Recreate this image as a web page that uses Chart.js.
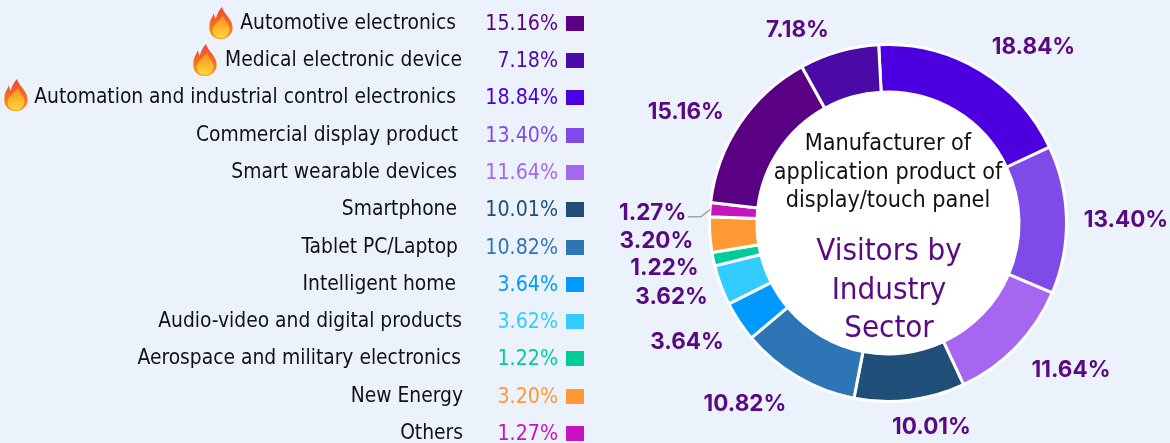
<!DOCTYPE html>
<html><head><meta charset="utf-8">
<style>html,body{margin:0;padding:0;background:#ebf2fb;overflow:hidden}canvas{display:block}</style>
<script src="https://cdn.jsdelivr.net/npm/chart.js@4/dist/chart.umd.min.js"></script>
</head><body><canvas id="c" width="1170" height="443"></canvas>
<script>
const legendCategories=["Automotive electronics","Medical electronic device","Automation and industrial control electronics","Commercial display product","Smart wearable devices","Smartphone","Tablet PC/Laptop","Intelligent home","Audio-video and digital products","Aerospace and military electronics","New Energy","Others"];
const legendValues=[15.16,7.18,18.84,13.40,11.64,10.01,10.82,3.64,3.62,1.22,3.20,1.27];
const legendColors=["#5a0082","#4b0aa5","#4c00e0","#7f4be8","#a566f0","#1f4e79","#2e75b6","#0099ff","#33ccff","#00cc99","#ff9933","#c814c0"];
const hotCategories=["Automotive electronics","Medical electronic device","Automation and industrial control electronics"];
const ringOrder=["Automation and industrial control electronics","Commercial display product","Smart wearable devices","Smartphone","Tablet PC/Laptop","Intelligent home","Audio-video and digital products","Aerospace and military electronics","New Energy","Others","Automotive electronics","Medical electronic device"];
const centerLines=["Manufacturer of","application product of","display/touch panel"];
const titleLines=["Visitors by","Industry","Sector"];

const val=n=>legendValues[legendCategories.indexOf(n)];
const col=n=>legendColors[legendCategories.indexOf(n)];
const rowY=[23,60,97,135,172,209,247,284,321,358,396,433];
const nameRight=[456,462,456,458,457,457,458,456,462,461,463,463];
const flameX=[221,205,16];
const nudges=[[34,10],[21,1],[27,-4],[17,-11],[-33,-6],[-20,-1],[-13,-1],[-11,1],[-15,4],[-19,6],[-22,10],[-31,16]];
const TEXT='"DejaVu Sans Condensed","DejaVu Sans",sans-serif';
const LABEL='Inter,"Open Sans",sans-serif';
const INK="#590a82";

function flame(ctx,x,y){
  ctx.save();ctx.translate(x,y);ctx.scale(1.05,1.07);
  const g=ctx.createLinearGradient(0,-15,0,15);
  g.addColorStop(0,"#e8483a");g.addColorStop(.55,"#f4701f");g.addColorStop(1,"#fb9a1a");
  ctx.fillStyle=g;ctx.beginPath();
  ctx.moveTo(1,-15);
  ctx.bezierCurveTo(3,-8,10,-5,11,3);
  ctx.bezierCurveTo(12,10,6,15,0,15);
  ctx.bezierCurveTo(-7,15,-12,10,-11,3);
  ctx.bezierCurveTo(-11,-3,-8,-5,-7,-9);
  ctx.bezierCurveTo(-6,-7,-6,-5,-5,-4);
  ctx.bezierCurveTo(-4,-8,-2,-12,1,-15);ctx.fill();
  const h=ctx.createLinearGradient(0,-6,0,14);
  h.addColorStop(0,"#fb8f1f");h.addColorStop(1,"#ffd83a");
  ctx.fillStyle=h;ctx.beginPath();
  ctx.moveTo(2,-7);
  ctx.bezierCurveTo(3,-2,9,2,8,7);
  ctx.bezierCurveTo(7,12,4,14,0,14);
  ctx.bezierCurveTo(-5,14,-8,11,-8,7);
  ctx.bezierCurveTo(-8,2,-3,0,2,-7);ctx.fill();
  ctx.restore();
}
const decor={
  id:"decor",
  beforeDatasetsDraw(chart){
    const a=chart.getDatasetMeta(0).data[0],c=chart.ctx;
    c.save();c.fillStyle="#fff";c.beginPath();c.arc(a.x,a.y,a.innerRadius+1,0,Math.PI*2);c.fill();c.restore();
  },
  afterDraw(chart){
    const c=chart.ctx,meta=chart.getDatasetMeta(0).data,a=meta[0];
    c.save();c.textBaseline="middle";
    legendCategories.forEach((n,i)=>{
      const y=rowY[i];
      c.font='20.8px '+TEXT;c.textAlign="right";c.fillStyle="#111";
      c.fillText(n,nameRight[i],y+1);
      c.font='21.2px '+TEXT;c.fillStyle=legendColors[i];
      c.fillText(legendValues[i].toFixed(2)+"%",558,y+1);
      c.fillRect(566,y-7,18,15);
    });
    hotCategories.forEach((n,i)=>flame(c,flameX[i],rowY[i]-(i==2?2:0)));
    c.textAlign="center";
    c.fillStyle="#111";c.font='23.2px '+TEXT;
    centerLines.forEach((t,i)=>c.fillText(t,a.x,144+i*28.5));
    c.fillStyle=INK;c.font='31px '+TEXT;
    titleLines.forEach((t,i)=>c.fillText(t,a.x+1,252+i*38.5));
    c.font='700 22.5px '+LABEL;
    meta.forEach((el,i)=>{
      const m=(el.startAngle+el.endAngle)/2,r=217;
      c.fillText(val(ringOrder[i]).toFixed(2)+"%",el.x+r*Math.cos(m)+nudges[i][0],el.y+r*Math.sin(m)+nudges[i][1]);
    });
    const oth=meta[ringOrder.indexOf("Others")],m=(oth.startAngle+oth.endAngle)/2,ox=oth.x+oth.outerRadius*Math.cos(m),oy=oth.y+oth.outerRadius*Math.sin(m);
    c.strokeStyle="#a6a6a6";c.lineWidth=1.5;c.beginPath();
    c.moveTo(ox,oy);c.lineTo(ox-9,oy+7);c.lineTo(ox-22,oy+7);c.stroke();
    c.restore();
  }
};
new Chart(document.getElementById("c"),{
  type:"doughnut",
  data:{labels:ringOrder,datasets:[{data:ringOrder.map(val),backgroundColor:ringOrder.map(col),borderColor:"#fff",borderWidth:3,borderAlign:"center"}]},
  options:{responsive:false,animation:false,rotation:-3,cutout:"73.4%",
    layout:{padding:{left:708,right:102,top:43,bottom:40}},
    plugins:{legend:{display:false},tooltip:{enabled:false}}},
  plugins:[decor]
});
</script></body></html>
